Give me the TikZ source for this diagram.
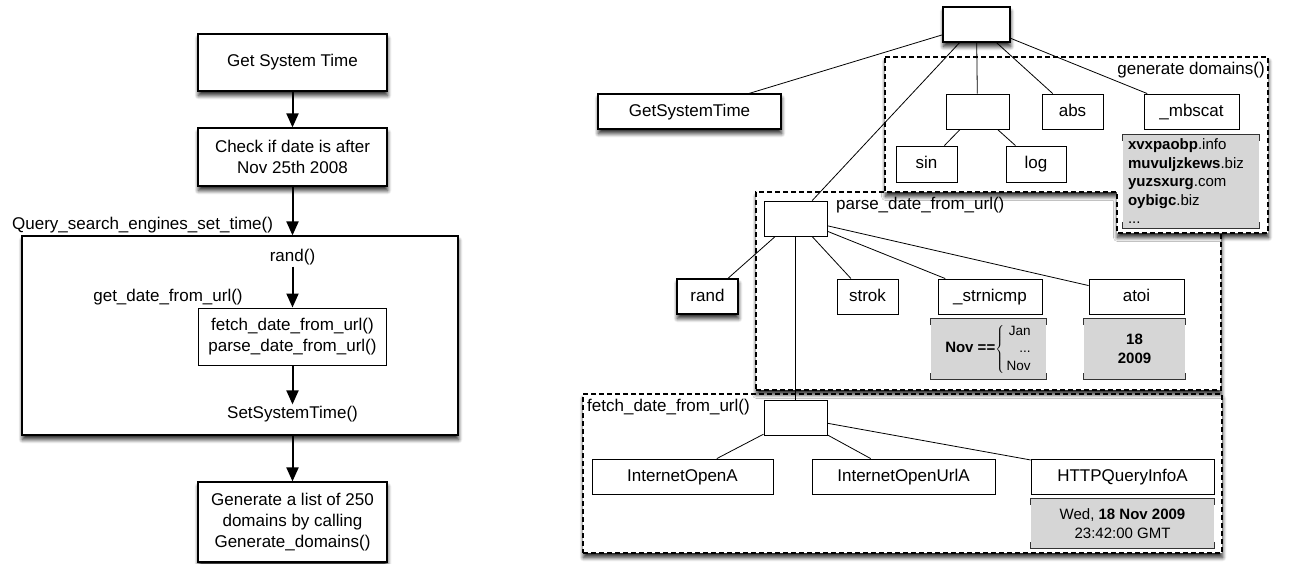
\documentclass[tikz,border=0pt]{standalone}
\usepackage{fontspec}
\setmainfont{Liberation Sans}
\usetikzlibrary{arrows.meta,shadows.blur}

\definecolor{notegray}{gray}{0.84}

\tikzset{
  every node/.style={font=\fontsize{17}{21}\selectfont},
  softshadow/.style={blur shadow={shadow xshift=0.5pt, shadow yshift=-4.5pt,
      shadow blur radius=4pt, shadow blur steps=8, shadow opacity=85}},
  stepbox/.style={draw, fill=white, line width=1.2pt, inner sep=0pt, align=center,
    minimum width=189pt, softshadow},
  plainbox/.style={draw, fill=white, line width=1pt, inner sep=0pt, align=center},
  fnbox/.style={draw, fill=white, line width=0.9pt, inner sep=0pt, minimum height=35pt,
    text height=12.5pt, text depth=3.5pt},
  shadowed/.style={line width=1.2pt, softshadow},
  callframe/.style={draw, dash pattern=on 5pt off 3pt, line width=1.1pt, fill=white,
    inner sep=0pt, softshadow},
  calllabel/.style={inner sep=1.5pt},
  notebox/.style={fill=notegray, inner sep=0pt, font=\fontsize{15}{18.5}\selectfont},
  bracket/.style={line width=1.1pt, black!80},
  flow/.style={line width=2pt, -{Triangle[width=12pt,length=14pt]}},
  link/.style={line width=0.8pt},
}

\begin{document}
\begin{tikzpicture}[x=1pt, y=-1pt]
  \useasboundingbox (0,0) rectangle (1293,563);

  % left: control flow
  \node[stepbox, minimum height=57pt] (gst) at (292.5,62.5) {Get System Time};
  \node[stepbox, minimum height=58pt] (chk) at (292.5,157) {Check if date is after\\Nov 25th 2008};
  \node[stepbox, minimum width=436pt, minimum height=199pt] (qbox) at (240,335.5) {};
  \node[calllabel, inner sep=0pt, anchor=west] (qlbl) at (12,225) {Query\_search\_engines\_set\_time()};
  \node[calllabel] (randcall) at (292.5,257) {rand()};
  \node[calllabel] (getdate) at (168,297) {get\_date\_from\_url()};
  \node[plainbox, minimum width=188pt, minimum height=57pt] (fetchparse) at (292.5,336.5)
    {fetch\_date\_from\_url()\\parse\_date\_from\_url()};
  \node[calllabel] (setcall) at (292.5,414) {SetSystemTime()};
  \node[stepbox, minimum height=80pt] (genlist) at (292.5,522)
    {Generate a list of 250\\domains by calling\\Generate\_domains()};

  \draw[flow] (gst) -- (chk);
  \draw[flow] (chk) -- (chk.south |- qbox.north);
  \draw[flow] (randcall) -- (fetchparse);
  \draw[flow] (fetchparse) -- (setcall);
  \draw[flow] (genlist.north |- qbox.south) -- (genlist);

  % right: call tree
  \node[callframe, minimum width=639pt, minimum height=159pt] (fframe) at (902.5,473.5) {};
  \node[callframe, minimum width=465pt, minimum height=198pt] (pframe) at (988.5,291) {};
  \path[callframe] (885,57) -- (1268,57) -- (1268,233) -- (1117,233) -- (1117,192)
    -- (885,192) -- cycle;
  \node[inner sep=0pt, anchor=east] (glbl) at (1265,70) {generate domains()};
  \node[inner sep=0pt, anchor=west] (plbl) at (836,205) {parse\_date\_from\_url()};
  \node[inner sep=0pt, anchor=west] (flbl) at (587,407) {fetch\_date\_from\_url()};

  \node[fnbox, shadowed, minimum width=67pt] (root) at (976.5,24.5) {};
  \node[fnbox, shadowed, minimum width=183pt] (gst2) at (689.5,111.5) {GetSystemTime};
  \node[fnbox, minimum width=63pt] (groot) at (977.5,111.5) {};
  \node[fnbox, minimum width=61pt] (abs) at (1072.5,111.5) {abs};
  \node[fnbox, minimum width=95pt] (mbscat) at (1191.5,111.5) {\_mbscat};
  \node[fnbox, minimum width=61pt, minimum height=36pt] (sin) at (926.5,164) {sin};
  \node[fnbox, minimum width=60pt, minimum height=36pt] (log) at (1036,164) {log};
  \node[notebox, minimum width=136pt, minimum height=93pt, text width=126pt, align=left]
    (domlist) at (1191,181.5)
    {\textbf{xvxpaobp}.info\\\textbf{muvuljzkews}.biz\\\textbf{yuzsxurg}.com\\\textbf{oybigc}.biz\\...};

  \node[fnbox, minimum width=63pt] (proot) at (795.5,218.5) {};
  \node[fnbox, shadowed, minimum width=61pt] (rand) at (707.5,296.5) {rand};
  \node[fnbox, minimum width=61pt] (strok) at (867.5,296.5) {strok};
  \node[fnbox, minimum width=104pt] (strnicmp) at (990,296.5) {\_strnicmp};
  \node[fnbox, minimum width=95pt] (atoi) at (1136.5,296.5) {atoi};
  \node[notebox, minimum width=115pt, minimum height=60pt] (novcmp) at (988.5,349)
    {\textbf{Nov ==}{\fontsize{13.5}{17.5}\selectfont$\left\{\,\begin{tabular}{@{}r@{}}Jan\\...\\Nov\end{tabular}\right.$}};
  \node[notebox, minimum width=101pt, minimum height=60pt, align=center] (atoival)
    at (1134.5,349) {\textbf{18}\\\textbf{2009}};

  \node[fnbox, minimum width=63pt] (froot) at (795.5,417.5) {};
  \node[fnbox, minimum width=181pt] (iopen) at (682.5,476.5) {InternetOpenA};
  \node[fnbox, minimum width=183pt] (iopenurl) at (903.5,476.5) {InternetOpenUrlA};
  \node[fnbox, minimum width=183pt] (httpq) at (1122.5,476.5) {HTTPQueryInfoA};
  \node[notebox, minimum width=183pt, minimum height=49pt, align=center] (dateval)
    at (1122.5,523.5) {Wed, \textbf{18 Nov 2009}\\23:42:00 GMT};

  \foreach \from/\to in {root/gst2, root/proot, root/groot, root/abs, root/mbscat,
      groot/sin, groot/log, proot/rand, proot/strok, proot/strnicmp, proot/atoi,
      proot/froot, froot/iopen, froot/iopenurl, froot/httpq} {
    \draw[link] (\from) -- (\to);
  }

  \foreach \n in {domlist, novcmp, atoival, dateval} {
    \draw[bracket] ([yshift=-6pt]\n.north west) -- (\n.north west) -- (\n.north east)
      -- ([yshift=-6pt]\n.north east);
    \draw[bracket] ([yshift=6pt]\n.south west) -- (\n.south west) -- (\n.south east)
      -- ([yshift=6pt]\n.south east);
  }
\end{tikzpicture}
\end{document}
